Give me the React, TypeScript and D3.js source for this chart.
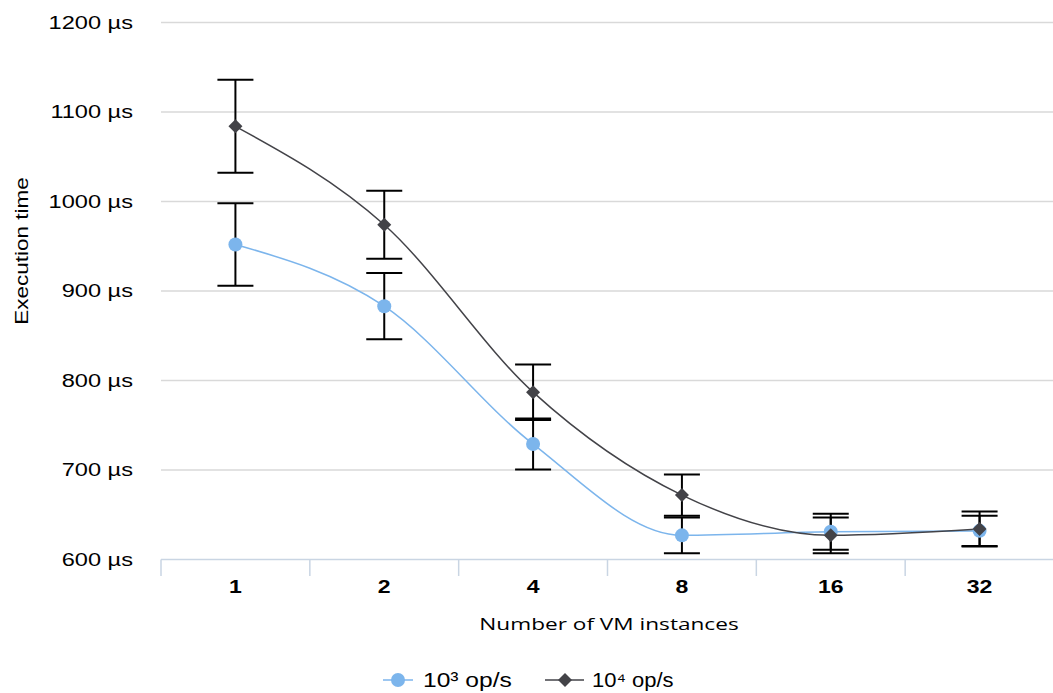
import React from "react";
import * as d3 from "d3";

const categories = ["1", "2", "4", "8", "16", "32"];
const seriesNames = ["10³ op/s", "10⁴ op/s"];
const series1 = [952, 883, 729, 627, 631, 632];
const series1Err = [46, 37, 28.5, 20, 20, 17];
const series2 = [1084, 974, 787, 672, 627, 634];
const series2Err = [52, 38, 31, 23, 20, 19.5];
const yTicks = [600, 700, 800, 900, 1000, 1100, 1200];

const W = 1053;
const H = 693;
const left = 161;
const right = 1054;
const top = 22.5;
const bottom = 559.5;
const SX = 1.28;

function T(props: {
  x: number;
  y: number;
  anchor?: string;
  size: number;
  bold?: boolean;
  rotate?: number;
  family?: string;
  sx?: number;
  children: React.ReactNode;
}) {
  const { x, y, anchor = "start", size, bold, rotate = 0, family, sx = SX, children } = props;
  return (
    <text
      transform={`translate(${x},${y}) rotate(${rotate}) scale(${sx},1)`}
      dy="0.35em"
      textAnchor={anchor}
      fontSize={size}
      fontWeight={bold ? "bold" : "normal"}
      fontFamily={family}
      fill="#000"
    >
      {children}
    </text>
  );
}

export default function App() {
  const x = d3.scaleBand<string>().domain(categories).range([left, right]);
  const y = d3.scaleLinear().domain([600, 1200]).range([bottom, top]);
  const cx = (c: string) => (x(c) as number) + x.bandwidth() / 2;
  const line = d3
    .line<number>()
    .x((_, i) => cx(categories[i]))
    .y((d) => y(d))
    .curve(d3.curveMonotoneX);

  const sers = [
    { name: seriesNames[0], vals: series1, err: series1Err, color: "#7cb5ec", marker: "circle" },
    { name: seriesNames[1], vals: series2, err: series2Err, color: "#434348", marker: "diamond" },
  ];

  const marker = (m: string, px: number, py: number, color: string, key: string) =>
    m === "circle" ? (
      <circle key={key} cx={px} cy={py} r={7} fill={color} />
    ) : (
      <path key={key} d={`M${px},${py - 7}L${px + 7},${py}L${px},${py + 7}L${px - 7},${py}Z`} fill={color} />
    );

  return (
    <svg width={W} height={H} style={{ position: "absolute", left: 0, top: 0, fontFamily: "Liberation Sans, Arial, sans-serif" }}>
      <rect width={W} height={H} fill="#fff" />
      {yTicks.map((t) => (
        <g key={t}>
          {t !== 600 && <line x1={left} x2={right} y1={y(t)} y2={y(t)} stroke="#d9d9d9" strokeWidth={1.5} />}
          <T x={133} y={y(t)} anchor="end" size={18} sx={1.31}>
            {t} µs
          </T>
        </g>
      ))}
      <line x1={left} x2={right} y1={bottom} y2={bottom} stroke="#c9d5e3" strokeWidth={1.5} />
      {d3.range(categories.length + 1).map((i) => {
        const tx = left + i * x.bandwidth();
        return <line key={i} x1={tx} x2={tx} y1={bottom} y2={576} stroke="#c9d5e3" strokeWidth={1.5} />;
      })}
      {categories.map((c) => (
        <T key={c} x={cx(c)} y={587} anchor="middle" size={18} bold>
          {c}
        </T>
      ))}
      <T x={609} y={624} anchor="middle" size={17} family="Open Sans, sans-serif" sx={1.33}>
        Number of VM instances
      </T>
      <T x={22} y={251} anchor="middle" size={18} rotate={-90} sx={1.25}>
        Execution time
      </T>
      {sers.map((s, si) => (
        <path key={si} d={line(s.vals) || ""} fill="none" stroke={s.color} strokeWidth={1.5} />
      ))}
      {sers.map((s, si) => (
        <g key={"e" + si}>
          {s.vals.map((v, i) => {
            const px = cx(categories[i]);
            const y1 = y(v + s.err[i]);
            const y2 = y(v - s.err[i]);
            return (
              <g key={i} stroke="#000" strokeWidth={2}>
                <line x1={px} x2={px} y1={y1} y2={y2} />
                <line x1={px - 18} x2={px + 18} y1={y1} y2={y1} />
                <line x1={px - 18} x2={px + 18} y1={y2} y2={y2} />
              </g>
            );
          })}
        </g>
      ))}
      {sers.map((s, si) => (
        <g key={"m" + si}>{s.vals.map((v, i) => marker(s.marker, cx(categories[i]), y(v), s.color, String(i)))}</g>
      ))}
      <g>
        <line x1={383} x2={413} y1={680} y2={680} stroke={sers[0].color} strokeWidth={1.5} />
        {marker("circle", 398, 680, sers[0].color, "l1")}
        <T x={423} y={680} size={20} sx={1.23}>{sers[0].name}</T>
        <line x1={545} x2={584} y1={680} y2={680} stroke={sers[1].color} strokeWidth={1.5} />
        {marker("diamond", 565, 680, sers[1].color, "l2")}
        <T x={592} y={680} size={20} sx={1.1}>{sers[1].name}</T>
      </g>
    </svg>
  );
}
